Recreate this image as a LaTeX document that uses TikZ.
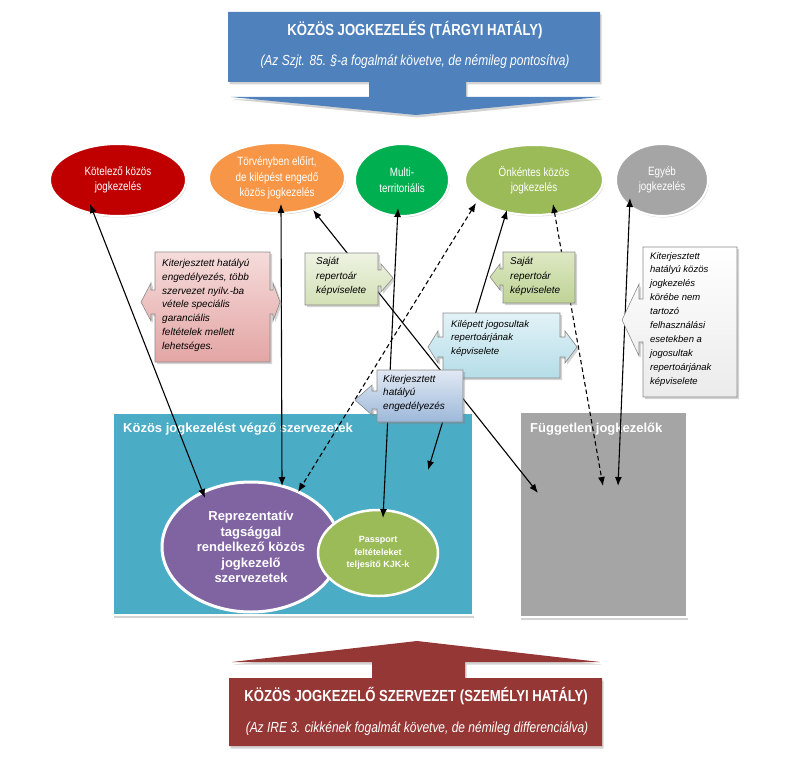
\documentclass[tikz,border=0pt]{standalone}
\usepackage{fontspec}
\setmainfont{Liberation Sans}
\newfontfamily\narrowfont[FakeStretch=0.82]{Liberation Sans}
\usetikzlibrary{arrows.meta,shadows,shapes.geometric,calc}
\definecolor{bnblue}{HTML}{4F81BD}
\definecolor{bnred}{HTML}{953735}
\definecolor{elred}{HTML}{C00000}
\definecolor{elorange}{HTML}{F79646}
\definecolor{elgreen}{HTML}{00B050}
\definecolor{ellgreen}{HTML}{9BBB59}
\definecolor{elgrey}{HTML}{A5A5A5}
\definecolor{bxteal}{HTML}{4BACC6}
\definecolor{bxgrey}{HTML}{A5A5A5}
\definecolor{elpurple}{HTML}{8064A2}
\definecolor{cobord}{HTML}{8A8A8A}
\definecolor{pinkT}{HTML}{F5DCDB}
\definecolor{pinkB}{HTML}{E3A5A4}
\definecolor{sajT}{HTML}{EEF3E2}
\definecolor{sajB}{HTML}{D3E1B6}
\definecolor{sajTT}{HTML}{DDE8C4}
\definecolor{sajBB}{HTML}{BFD395}
\definecolor{kilT}{HTML}{E2F2F7}
\definecolor{kilB}{HTML}{B5DDE8}
\definecolor{kitT}{HTML}{E1E9F3}
\definecolor{kitB}{HTML}{9DB8DA}
\definecolor{rgtB}{HTML}{EBEBEB}
\begin{document}
\begin{tikzpicture}[x=1pt,y=-1pt,
  ell/.style={ellipse, draw=white, line width=2pt, inner sep=0pt, text=white, align=center,
    font=\narrowfont\fontsize{12}{15.5}\selectfont,
    drop shadow={opacity=0.3,shadow xshift=1pt,shadow yshift=-1.5pt}},
  bigbox/.style={rectangle, draw=white, line width=2pt, inner sep=0pt,
    drop shadow={opacity=0.35,shadow xshift=1pt,shadow yshift=-2.5pt}},
  boxtitle/.style={anchor=west, inner sep=0pt, text=white, font=\bfseries\fontsize{13}{15}\selectfont},
  bantitle/.style={inner sep=0pt, text=white, font=\narrowfont\bfseries\fontsize{16}{18}\selectfont},
  bansub/.style={inner sep=0pt, text=white, font=\narrowfont\itshape\fontsize{14.6}{17}\selectfont},
  banner/.style={drop shadow={opacity=0.35,shadow xshift=1.5pt,shadow yshift=-2.5pt}},
  callout/.style={draw=cobord, line width=0.6pt,
    drop shadow={opacity=0.35,shadow xshift=2pt,shadow yshift=-2pt}},
  ctext/.style={anchor=north west, inner sep=0pt, align=left, font=\itshape\fontsize{10}{13.8}\selectfont},
  conn/.style={draw=black, line width=1.1pt, {Latex[length=9pt,width=7pt]}-{Latex[length=9pt,width=7pt]}},
  dconn/.style={conn, dash pattern=on 4.5pt off 3pt},
]
\useasboundingbox (0,0) rectangle (791,759);

% ---------- top banner ----------
\fill[bnblue, banner] (228,12) -- (600,12) -- (600,82) -- (466,82) -- (466,97) -- (600,97)
  -- (416,115) -- (231,97) -- (369,97) -- (369,82) -- (228,82) -- cycle;
\node[bantitle] (toptitle) at (415,30) {KÖZÖS JOGKEZELÉS (TÁRGYI HATÁLY)};
\node[bansub] (topsub) at (415,62) {(Az Szjt. 85. §-a fogalmát követve, de némileg pontosítva)};

% ---------- bottom banner ----------
\fill[bnred, banner] (417,641) -- (600,662) -- (465,662) -- (465,678) -- (602,678) -- (602,746)
  -- (229,746) -- (229,678) -- (372,678) -- (372,662) -- (232,662) -- cycle;
\node[bantitle] (bottitle) at (416,696) {KÖZÖS JOGKEZELŐ SZERVEZET (SZEMÉLYI HATÁLY)};
\node[bansub] (botsub) at (417,729) {(Az IRE 3. cikkének fogalmát követve, de némileg differenciálva)};

% ---------- big boxes ----------
\node[bigbox, fill=bxteal, minimum width=360pt, minimum height=202pt] (teal) at (293,514) {};
\node[bigbox, fill=bxgrey, minimum width=167pt, minimum height=205pt] (fugg) at (603.5,514.5) {};
\node[boxtitle] (tealtitle) at (123,429) {Közös jogkezelést végző szervezetek};
\node[boxtitle] (fuggtitle) at (530,429) {Független jogkezelők};

% ---------- inner ellipses ----------
\node[ell, fill=elpurple, minimum width=178pt, minimum height=130pt, line width=3pt,
  font=\bfseries\fontsize{13}{15.5}\selectfont] (purple) at (251,547)
  {Reprezentatív\\tagsággal\\rendelkező közös\\jogkezelő\\szervezetek};
\node[ell, fill=ellgreen, minimum width=120pt, minimum height=86pt, line width=2.5pt,
  font=\bfseries\fontsize{9}{12.5}\selectfont] (pass) at (378,553)
  {Passport\\feltételeket\\teljesítő KJK-k};

% ---------- top ellipses ----------
\node[ell, fill=elred, minimum width=136pt, minimum height=72pt] (kot) at (118,180) {Kötelező közös\\jogkezelés};
\node[ell, fill=elorange, minimum width=136pt, minimum height=70pt] (tor) at (277,178) {Törvényben előírt,\\de kilépést engedő\\közös jogkezelés};
\node[ell, fill=elgreen, minimum width=94pt, minimum height=72pt] (mul) at (402,180) {Multi-\\territoriális};
\node[ell, fill=ellgreen, minimum width=138pt, minimum height=70pt] (onk) at (534,180) {Önkéntes közös\\jogkezelés};
\node[ell, fill=elgrey, minimum width=92pt, minimum height=72pt] (egy) at (662,180) {Egyéb\\jogkezelés};

% ---------- connectors ----------
\draw[conn] ($(kot.center)+(-28,24)$) -- ($(purple.center)+(-46,-49)$);
\draw[conn] ($(tor.center)+(4,26)$) -- ($(purple.center)+(31,-61)$);
\draw[conn] ($(tor.center)+(36,32)$) -- ($(fugg.center)+(-65.5,-21.5)$);
\draw[conn] ($(mul.center)+(-4,28)$) -- ($(pass.center)+(5,-35)$);
\draw[dconn] ($(onk.center)+(-58,23)$) -- ($(purple.center)+(47,-55)$);
\draw[conn] ($(onk.center)+(-27,30)$) -- ($(teal.center)+(135,-44)$);
\draw[dconn] ($(onk.center)+(19,24)$) -- ($(fugg.center)+(-0.5,-28.5)$);
\draw[conn] ($(egy.center)+(-32,18)$) -- ($(fugg.center)+(14.5,-28.5)$);

% ---------- callouts ----------
% pink left-right
\path[callout, top color=pinkT, bottom color=pinkB]
  (155,252) -- (270,252) -- (270,290) -- (273,290) -- (273,283) -- (280,302) -- (273,321) -- (273,314)
  -- (270,314) -- (270,362) -- (155,362) -- (155,314) -- (151,314) -- (151,321) -- (141,302)
  -- (151,283) -- (151,290) -- (155,290) -- cycle;
\node[ctext] (pinktxt) at (162,259) {Kiterjesztett hatályú\\engedélyezés, több\\szervezet nyilv.-ba\\vétele speciális\\garanciális\\feltételek mellett\\lehetséges.};

% saját 1 (right)
\path[callout, top color=sajT, bottom color=sajB]
  (305,253) -- (378,253) -- (378,270) -- (381,270) -- (381,264) -- (393,278) -- (381,292) -- (381,286)
  -- (378,286) -- (378,305) -- (305,305) -- cycle;
\node[ctext, font=\itshape\fontsize{10}{14.5}\selectfont] (saj1txt) at (316,257) {Saját\\repertoár\\képviselete};

% saját 2 (left)
\path[callout, top color=sajTT, bottom color=sajBB]
  (503,252) -- (575,252) -- (575,303) -- (503,303) -- (503,285) -- (500,285) -- (500,290) -- (490,277)
  -- (500,264) -- (500,269) -- (503,269) -- cycle;
\node[ctext, font=\itshape\fontsize{10}{14.5}\selectfont] (saj2txt) at (510,257) {Saját\\repertoár\\képviselete};

% kilépett (left-right)
\path[callout, top color=kilT, bottom color=kilB]
  (443,313) -- (560,313) -- (560,337) -- (565,337) -- (565,331) -- (577,347) -- (565,363) -- (565,357)
  -- (560,357) -- (560,378) -- (443,378) -- (443,357) -- (438,357) -- (438,363) -- (428,347)
  -- (438,331) -- (438,337) -- (443,337) -- cycle;
\node[ctext, font=\itshape\fontsize{9.6}{13.5}\selectfont] (kiltxt) at (451,320) {Kilépett jogosultak\\repertoárjának\\képviselete};

% kiterjesztett (left)
\path[callout, top color=kitT, bottom color=kitB]
  (377,370) -- (463,370) -- (463,422) -- (377,422) -- (377,409) -- (372,409) -- (372,415) -- (355,400)
  -- (372,385) -- (372,391) -- (377,391) -- cycle;
\node[ctext, font=\itshape\fontsize{10}{13.5}\selectfont] (kittxt) at (383,375) {Kiterjesztett\\hatályú\\engedélyezés};

% right grey (left)
\path[callout, top color=white, bottom color=rgtB]
  (643,247) -- (737,247) -- (737,397) -- (643,397) -- (643,342) -- (639,342) -- (639,356) -- (622,320)
  -- (639,284) -- (639,299) -- (643,299) -- cycle;
\node[ctext, font=\itshape\fontsize{9.5}{13.9}\selectfont] (rgttxt) at (650,252) {Kiterjesztett\\hatályú közös\\jogkezelés\\körébe nem\\tartozó\\felhasználási\\esetekben a\\jogosultak\\repertoárjának\\képviselete};

\end{tikzpicture}
\end{document}
